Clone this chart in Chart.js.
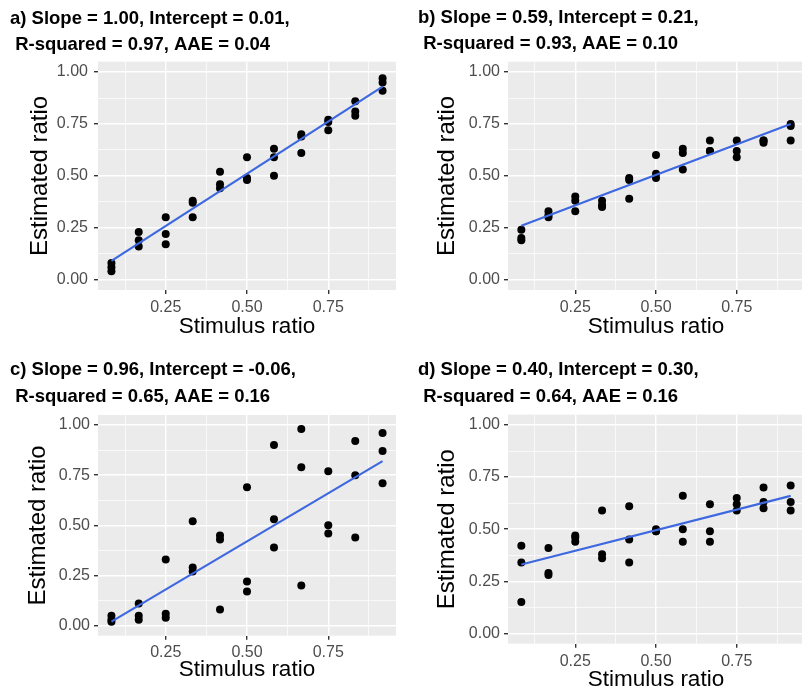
<!DOCTYPE html>
<html>
<head>
<meta charset="utf-8">
<script src="https://cdn.jsdelivr.net/npm/chart.js@4.4.1/dist/chart.umd.min.js"></script>
<style>
  html, body { margin: 0; padding: 0; background: #fff; overflow: hidden; }
  body { width: 802px; height: 692px; position: relative; }
  canvas { position: absolute; }
</style>
</head>
<body>
<canvas id="chart-a" width="400" height="340" style="left:0px;top:0px;"></canvas>
<canvas id="chart-b" width="408" height="340" style="left:400px;top:0px;"></canvas>
<canvas id="chart-c" width="400" height="352" style="left:0px;top:340px;"></canvas>
<canvas id="chart-d" width="408" height="370" style="left:400px;top:340px;"></canvas>
<script>
'use strict';

// ** DATA **

let stimulusRatio = [0.083, 0.167, 0.25, 0.333, 0.417, 0.5, 0.583, 0.667, 0.75, 0.833, 0.917];

// estimated ratios, one small list per stimulus ratio
let estimatesA = [[0.04, 0.06, 0.08], [0.23, 0.19, 0.16], [0.30, 0.22, 0.17], [0.38, 0.37, 0.30],
  [0.52, 0.46, 0.44], [0.59, 0.49, 0.48], [0.63, 0.59, 0.50], [0.70, 0.69, 0.61],
  [0.77, 0.76, 0.72], [0.86, 0.81, 0.79], [0.97, 0.95, 0.91]];
let estimatesB = [[0.24, 0.20, 0.19], [0.33, 0.31, 0.30], [0.40, 0.38, 0.33], [0.38, 0.36, 0.35],
  [0.49, 0.48, 0.39], [0.60, 0.51, 0.49], [0.63, 0.61, 0.53], [0.67, 0.62, 0.62],
  [0.67, 0.62, 0.59], [0.67, 0.67, 0.66], [0.75, 0.74, 0.67]];
let estimatesC = [[0.05, 0.03, 0.02], [0.11, 0.05, 0.03], [0.33, 0.06, 0.04], [0.52, 0.29, 0.27],
  [0.45, 0.43, 0.08], [0.69, 0.22, 0.17], [0.90, 0.53, 0.39], [0.98, 0.79, 0.20],
  [0.77, 0.50, 0.46], [0.92, 0.75, 0.44], [0.96, 0.87, 0.71]];
let estimatesD = [[0.42, 0.34, 0.15], [0.41, 0.29, 0.28], [0.47, 0.46, 0.44], [0.59, 0.38, 0.36],
  [0.61, 0.45, 0.34], [0.50, 0.49, 0.49], [0.66, 0.50, 0.44], [0.62, 0.49, 0.44],
  [0.65, 0.62, 0.59], [0.70, 0.63, 0.60], [0.71, 0.63, 0.59]];

// fitted line, read at the first and last stimulus ratio
let fitX = [0.083, 0.917];
let fitA = [0.09, 0.93];
let fitB = [0.26, 0.75];
let fitC = [0.02, 0.82];
let fitD = [0.33, 0.66];

let titleA = ['a) Slope = 1.00, Intercept = 0.01,', ' R-squared = 0.97, AAE = 0.04'];
let titleB = ['b) Slope = 0.59, Intercept = 0.21,', ' R-squared = 0.93, AAE = 0.10'];
let titleC = ['c) Slope = 0.96, Intercept = -0.06,', ' R-squared = 0.65, AAE = 0.16'];
let titleD = ['d) Slope = 0.40, Intercept = 0.30,', ' R-squared = 0.64, AAE = 0.16'];

let xTicks = [0.125, 0.25, 0.375, 0.5, 0.625, 0.75, 0.875];
let yTicks = [0, 0.125, 0.25, 0.375, 0.5, 0.625, 0.75, 0.875, 1];

let xLabel = 'Stimulus ratio';
let yLabel = 'Estimated ratio';

// ** HELPERS **

const FONT = '"Liberation Sans", Arial, sans-serif';

function isMajor(v) {
  return Math.abs(v * 4 - Math.round(v * 4)) < 1e-6;
}

function toPoints(estimates) {
  let pts = [];
  for (let i = 0; i < stimulusRatio.length; i++) {
    for (let j = 0; j < estimates[i].length; j++) {
      pts.push({ x: stimulusRatio[i], y: estimates[i][j] });
    }
  }
  return pts;
}

// gray ggplot panel
const panelBackground = {
  id: 'panelBackground',
  beforeDraw(chart) {
    let a = chart.chartArea;
    chart.ctx.save();
    chart.ctx.fillStyle = '#EBEBEB';
    chart.ctx.fillRect(a.left, a.top, a.right - a.left, a.bottom - a.top);
    chart.ctx.restore();
  }
};

function gridOpts() {
  return {
    color: '#FFFFFF',
    lineWidth: (c) => (c.tick && isMajor(c.tick.value)) ? 1.4 : 0.7,
    tickColor: (c) => (c.tick && isMajor(c.tick.value)) ? '#333333' : 'rgba(0,0,0,0)',
    tickLength: 4,
    drawTicks: true
  };
}

function makeChart(id, title, estimates, fit, g) {
  let ctx = document.getElementById(id);
  new Chart(ctx, {
    type: 'scatter',
    data: {
      datasets: [{
        data: toPoints(estimates),
        backgroundColor: '#000000',
        borderColor: '#000000',
        pointRadius: 4,
        borderWidth: 0,
        order: 2
      }, {
        type: 'line',
        data: fitX.map((x, i) => ({ x: x, y: fit[i] })),
        borderColor: '#3D68E0',
        borderWidth: 2.2,
        pointRadius: 0,
        fill: false,
        order: 1
      }]
    },
    options: {
      responsive: false,
      animation: false,
      devicePixelRatio: 1,
      layout: { padding: { left: g.padLeft, right: 0, top: 0, bottom: 0 } },
      plugins: {
        legend: { display: false },
        tooltip: { enabled: false },
        title: {
          display: true,
          text: title,
          align: 'start',
          color: '#000000',
          font: { family: FONT, size: 18.5, weight: 'bold', lineHeight: g.titleLine / 18.5 },
          padding: { top: g.titleTop, bottom: g.titleBottom }
        }
      },
      scales: {
        x: {
          type: 'linear',
          min: 0.0417,
          max: 0.9583,
          border: { display: false },
          grid: gridOpts(),
          afterBuildTicks: (axis) => { axis.ticks = xTicks.map(v => ({ value: v })); },
          afterFit: (axis) => { axis.height = g.xHeight; },
          ticks: {
            autoSkip: false,
            maxRotation: 0,
            padding: g.xTickPad,
            color: '#4D4D4D',
            font: { family: FONT, size: 16 },
            callback: (v) => isMajor(v) ? v.toFixed(2) : ''
          },
          title: {
            display: true,
            text: xLabel,
            color: '#000000',
            font: { family: FONT, size: 22.5 },
            padding: { top: 0, bottom: g.xTitlePad }
          }
        },
        y: {
          type: 'linear',
          min: -0.05,
          max: 1.05,
          border: { display: false },
          grid: gridOpts(),
          afterBuildTicks: (axis) => { axis.ticks = yTicks.map(v => ({ value: v })); },
          afterFit: (axis) => { axis.width = g.yWidth; },
          ticks: {
            autoSkip: false,
            padding: g.yTickPad,
            color: '#4D4D4D',
            font: { family: FONT, size: 16 },
            callback: (v) => isMajor(v) ? v.toFixed(2) : ''
          },
          title: {
            display: true,
            text: yLabel,
            color: '#000000',
            font: { family: FONT, size: 24 },
            padding: { top: g.yTitlePad, bottom: 0 }
          }
        }
      }
    },
    plugins: [panelBackground]
  });
}

// ** RENDER **

makeChart('chart-a', titleA, estimatesA, fitA,
  { padLeft: 10, titleLine: 26, titleTop: 5.5, titleBottom: 4.2, xHeight: 50, xTickPad: 4, xTitlePad: 0,
    yWidth: 88, yTickPad: 6, yTitlePad: 15.6 });
makeChart('chart-b', titleB, estimatesB, fitB,
  { padLeft: 18, titleLine: 26, titleTop: 5, titleBottom: 4.7, xHeight: 50, xTickPad: 4, xTitlePad: 0,
    yWidth: 90, yTickPad: 4, yTitlePad: 15 });
makeChart('chart-c', titleC, estimatesC, fitC,
  { padLeft: 10, titleLine: 27, titleTop: 16.5, titleBottom: 4.5, xHeight: 56.3, xTickPad: 3, xTitlePad: 9,
    yWidth: 88, yTickPad: 4, yTitlePad: 14 });
makeChart('chart-d', titleD, estimatesD, fitD,
  { padLeft: 18, titleLine: 27, titleTop: 16.5, titleBottom: 4.1, xHeight: 66.3, xTickPad: 4, xTitlePad: 16.8,
    yWidth: 90, yTickPad: 4, yTitlePad: 14.6 });
</script>
</body>
</html>
